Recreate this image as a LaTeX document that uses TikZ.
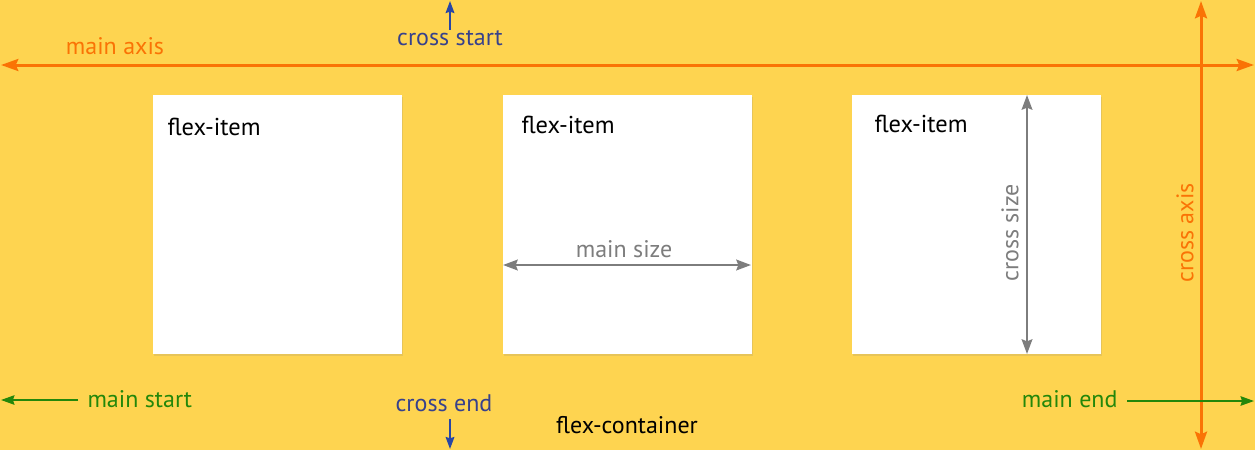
\documentclass[tikz,border=0pt]{standalone}
\usepackage{fontspec}
\setmainfont{PT Sans}
\usetikzlibrary{arrows.meta,positioning,shadows}

\definecolor{flexbg}{RGB}{254,212,80}
\definecolor{axisorange}{RGB}{250,115,5}
\definecolor{crossblue}{RGB}{40,70,165}
\definecolor{crosstext}{RGB}{55,65,140}
\definecolor{maingreen}{RGB}{35,135,10}
\definecolor{sizegray}{RGB}{125,125,125}

\tikzset{every picture/.style={line width=0.75pt},
  axisline/.style={draw=axisorange,line width=2.25pt,{Stealth[length=13pt,width=9pt,inset=2pt]}-{Stealth[length=13pt,width=9pt,inset=2pt]}},
  crossarrow/.style={draw=crossblue,line width=1.5pt,-{Stealth[length=9pt,width=6.5pt,inset=1pt]}},
  mainarrow/.style={draw=maingreen,line width=1.5pt,-{Stealth[length=10pt,width=7pt,inset=1pt]}},
  sizearrow/.style={draw=sizegray,line width=1.8pt,{Stealth[length=11pt,width=8pt,inset=1.5pt]}-{Stealth[length=11pt,width=8pt,inset=1.5pt]}},
  itembox/.style={fill=white,minimum width=186.75pt,minimum height=194.25pt,inner sep=0pt,
    drop shadow={shadow xshift=1pt,shadow yshift=-1.5pt,opacity=0.18}},
  itemlabel/.style={anchor=west,inner sep=0pt,font=\fontsize{18.3}{20}\selectfont},
  labeltext/.style={inner sep=0pt,font=\fontsize{18}{20}\selectfont}
}

\begin{document}
\begin{tikzpicture}[x=0.75pt,y=0.75pt,yscale=-1,xscale=1]
%container
\fill[flexbg] (0,0) rectangle (1255,450);
\useasboundingbox (0,0) rectangle (1255,450);

%flex items
\node[itembox] (box1) at (277.5,224.5) {};
\node[itembox] (box2) at (627,224.5) {};
\node[itembox] (box3) at (976.5,224.5) {};

% Text Node
\node[itemlabel] (lab1) at (167,127) {flex-item};
\node[itemlabel] (lab2) at (521,125) {flex-item};
\node[itemlabel] (lab3) at (874,124) {flex-item};

%main axis
\coordinate (axl) at (1,65);
\coordinate (axr) at (1254,65);
\draw[axisline] (axl) -- (axr);
\node[labeltext,text=axisorange] (mainaxis) at (115,46) {main axis};

%cross axis
\coordinate (axt) at (1201,1);
\coordinate (axb) at (1201,449);
\draw[axisline] (axb) -- (axt);
\node[labeltext,text=axisorange,rotate=90] (crossaxis) at (1185,233) {cross axis};

%cross start / cross end
\node[labeltext,text=crosstext] (cstart) at (450,38) {cross start};
\coordinate (cstop) at (450,1);
\draw[crossarrow] (cstart.north) -- (cstop);
\node[labeltext,text=crosstext] (cend) at (444,403) {cross end};
\coordinate (cefrom) at (450,419);
\coordinate (ceto) at (450,449);
\draw[crossarrow] (cefrom) -- (ceto);

%main start / main end
\node[labeltext,text=maingreen,anchor=west] (mstart) at (87,399) {main start};
\coordinate (msfrom) at (78,400);
\coordinate (msto) at (1,400);
\draw[mainarrow] (msfrom) -- (msto);
\node[labeltext,text=maingreen,anchor=east] (mend) at (1118,399) {main end};
\coordinate (mefrom) at (1127,401);
\coordinate (meto) at (1254,401);
\draw[mainarrow] (mefrom) -- (meto);

%flex container
\node[labeltext] (container) at (627,425) {flex-container};

%main size
\coordinate (msl) at (503,265);
\coordinate (msr) at (751,265);
\draw[sizearrow] (msl) -- (msr);
\node[labeltext,text=sizegray] (mainsize) at (624,249) {main size};

%cross size
\coordinate (cst) at (1027,95);
\coordinate (csb) at (1027,354);
\draw[sizearrow] (cst) -- (csb);
\node[labeltext,text=sizegray,rotate=90] (crosssize) at (1010,233) {cross size};

\end{tikzpicture}
\end{document}
